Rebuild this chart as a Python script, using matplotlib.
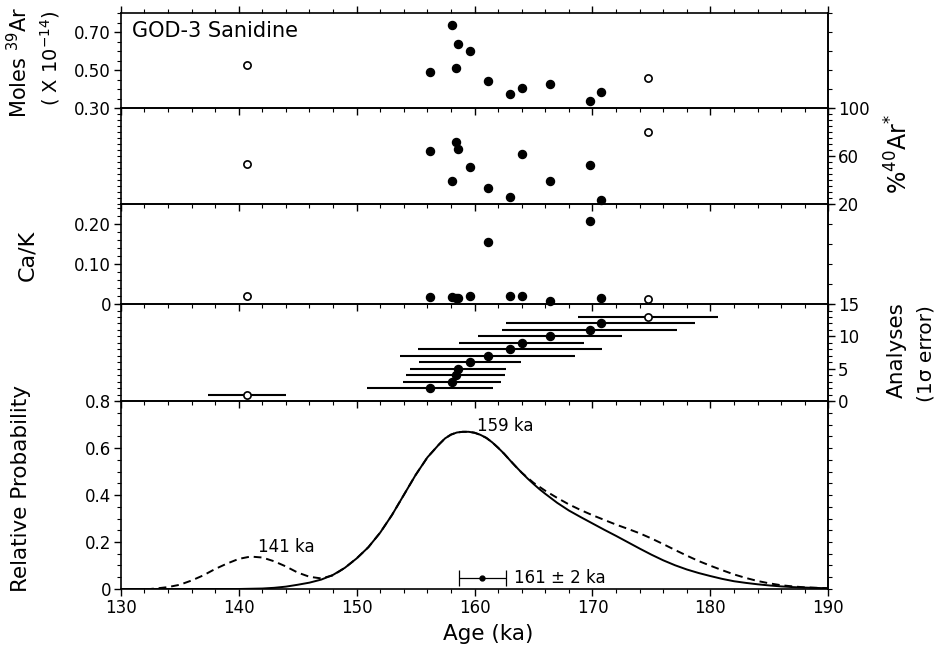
import numpy as np
import matplotlib
matplotlib.use('Agg')
import matplotlib.pyplot as plt
import matplotlib.gridspec as gridspec
from matplotlib.ticker import MultipleLocator, FixedLocator, NullLocator

plt.rcParams['font.family'] = ['DejaVu Sans']

# single-crystal analyses, sorted by age (ka)
ages = np.array([140.7, 156.2, 158.1, 158.4, 158.6, 159.6, 161.1, 163.0, 164.0, 166.4, 169.75, 170.7, 174.7])
errs = np.array([3.3, 5.35, 4.15, 4.2, 4.1, 4.35, 7.45, 7.8, 5.3, 6.1, 7.4, 8.0, 5.9])
moles39 = np.array([0.526, 0.488, 0.737, 0.509, 0.635, 0.600, 0.442, 0.372, 0.404, 0.428, 0.337, 0.383, 0.456])
rad40 = np.array([53.1, 64.2, 39.2, 71.9, 65.8, 51.1, 33.1, 25.8, 61.9, 39.2, 52.2, 23.3, 80.3])
cak = np.array([0.021, 0.018, 0.018, 0.016, 0.014, 0.019, 0.155, 0.019, 0.019, 0.008, 0.207, 0.014, 0.013])
used = np.array([False] + [True] * 11 + [False])

# probability curves
solid_age = [130, 136, 140, 142, 143, 144, 145, 146, 147, 148, 149, 150, 151, 152, 153, 154, 155,
             156, 157, 157.5, 158, 158.5, 159, 159.5, 160, 160.5, 161, 161.5, 162, 162.5, 163,
             163.5, 164, 164.5, 165, 165.5, 166, 167, 168, 169, 170, 171, 172, 173, 174, 175, 176,
             177, 178, 179, 180, 181, 182, 183, 184, 185, 186, 187, 188, 190]
solid_p = [0, 0, 0, 0.002, 0.005, 0.01, 0.018, 0.027, 0.04, 0.06, 0.09, 0.13, 0.178, 0.24, 0.315,
           0.40, 0.485, 0.56, 0.616, 0.641, 0.657, 0.666, 0.669, 0.669, 0.665, 0.656, 0.643, 0.624,
           0.601, 0.576, 0.548, 0.521, 0.495, 0.47, 0.447, 0.425, 0.405, 0.367, 0.334, 0.306, 0.279,
           0.252, 0.226, 0.199, 0.172, 0.146, 0.122, 0.101, 0.083, 0.068, 0.055, 0.043, 0.033,
           0.026, 0.02, 0.015, 0.011, 0.008, 0.006, 0.003]
dash_age = [130, 132.5, 133.3, 134, 135, 136, 137, 138, 139, 140, 141, 142, 143, 144, 145, 146, 147,
            148, 149, 150, 151, 152, 153, 154, 155, 156, 157, 157.5, 158, 158.5, 159, 159.5, 160,
            160.5, 161, 161.5, 162, 162.5, 163, 163.5, 164, 165, 166, 167, 168, 169, 170, 171, 172,
            173, 174, 175, 176, 177, 178, 179, 180, 181, 182, 183, 184, 185, 186, 187, 188, 190]
dash_p = [0, 0, 0.004, 0.008, 0.018, 0.036, 0.058, 0.085, 0.108, 0.128, 0.138, 0.134, 0.118, 0.096,
          0.07, 0.052, 0.045, 0.058, 0.09, 0.13, 0.178, 0.24, 0.315, 0.40, 0.485, 0.56, 0.616,
          0.641, 0.657, 0.666, 0.669, 0.669, 0.665, 0.656, 0.643, 0.624, 0.601, 0.576, 0.548,
          0.521, 0.495, 0.452, 0.418, 0.388, 0.36, 0.336, 0.314, 0.294, 0.274, 0.256, 0.237,
          0.215, 0.191, 0.166, 0.142, 0.119, 0.099, 0.08, 0.062, 0.047, 0.034, 0.024, 0.016,
          0.011, 0.007, 0.003]

mean_age = 160.65
mean_err = 2.0

xticks = [130, 140, 150, 160, 170, 180, 190]

fig = plt.figure(figsize=(9.36, 6.54), dpi=100)
gs = gridspec.GridSpec(5, 1, height_ratios=[95, 96, 100, 97, 188])
gs.update(left=0.129, right=0.885, top=0.980, bottom=0.0994, hspace=0)
axs = [fig.add_subplot(gs[i, 0]) for i in range(5)]


def style(ax, bottom_labels=False):
    ax.patch.set_visible(False)
    ax.set_xlim(130, 190)
    ax.xaxis.set_major_locator(FixedLocator(xticks))
    ax.xaxis.set_minor_locator(MultipleLocator(2))
    ax.tick_params(which='major', direction='out', length=5, width=1, labelsize=12, pad=2)
    ax.tick_params(which='minor', direction='out', length=3, width=0.8)
    ax.tick_params(axis='x', labelbottom=bottom_labels)
    ax.tick_params(axis='y', right=False)
    for s in ax.spines.values():
        s.set_linewidth(1.2)


def right_axis(ax, major=None, labels=None, minor=None):
    sec = ax.secondary_yaxis('right')
    if major is not None:
        sec.yaxis.set_major_locator(FixedLocator(major))
        sec.set_yticklabels(labels)
    else:
        sec.yaxis.set_major_locator(NullLocator())
    if minor is not None:
        sec.yaxis.set_minor_locator(MultipleLocator(minor))
    sec.tick_params(which='major', direction='out', length=5, width=1, labelsize=12, pad=2)
    sec.tick_params(which='minor', direction='out', length=3, width=0.8)
    sec.spines['right'].set_linewidth(1.2)
    return sec


def dots(ax, x, y):
    ax.plot(x[used], y[used], 'o', ms=5.8, mfc='k', mec='k', clip_on=False, zorder=3)
    ax.plot(x[~used], y[~used], 'o', ms=5.2, mfc='white', mec='k', mew=1.2, clip_on=False, zorder=3)


# panel 1: moles 39Ar
ax1 = axs[0]
style(ax1)
ax1.tick_params(axis='x', which='both', top=True)
ax1.set_ylim(0.30, 0.80)
ax1.yaxis.set_major_locator(FixedLocator([0.30, 0.50, 0.70]))
ax1.set_yticklabels(['0.30', '0.50', '0.70'])
ax1.yaxis.set_minor_locator(MultipleLocator(0.05))
right_axis(ax1, minor=0.1)
dots(ax1, ages, moles39)
ax1.text(0.0156, 0.744, 'GOD-3 Sanidine', transform=ax1.transAxes, fontsize=15, va='baseline')

# panel 2: %40Ar*
ax2 = axs[1]
style(ax2)
ax2.set_ylim(20, 100)
ax2.yaxis.set_major_locator(NullLocator())
ax2.yaxis.set_minor_locator(MultipleLocator(5))
right_axis(ax2, major=[20, 60, 100], labels=['20', '60', '100'], minor=5)
dots(ax2, ages, rad40)

# panel 3: Ca/K
ax3 = axs[2]
style(ax3)
ax3.set_ylim(0, 0.25)
ax3.yaxis.set_major_locator(FixedLocator([0, 0.10, 0.20]))
ax3.set_yticklabels(['0', '0.10', '0.20'])
ax3.yaxis.set_minor_locator(MultipleLocator(0.02))
right_axis(ax3, minor=0.05)
dots(ax3, ages, cak)

# panel 4: analyses with 1 sigma errors
ax4 = axs[3]
style(ax4)
ax4.set_ylim(0, 15)
ax4.yaxis.set_major_locator(NullLocator())
ax4.yaxis.set_minor_locator(MultipleLocator(1))
right_axis(ax4, major=[0, 5, 10, 15], labels=['0', '5', '10', '15'], minor=1)
rank = np.arange(1, len(ages) + 1)
ax4.errorbar(ages, rank, xerr=errs, fmt='none', ecolor='k', elinewidth=1.5, capsize=0)
dots(ax4, ages, rank)

# panel 5: relative probability
ax5 = axs[4]
style(ax5, bottom_labels=True)
ax5.set_ylim(0, 0.8)
ax5.yaxis.set_major_locator(FixedLocator([0, 0.2, 0.4, 0.6, 0.8]))
ax5.set_yticklabels(['0', '0.2', '0.4', '0.6', '0.8'])
ax5.yaxis.set_minor_locator(MultipleLocator(0.05))
ax5.set_xticklabels([str(t) for t in xticks])
right_axis(ax5, minor=0.05)
ax5.plot(solid_age, solid_p, color='k', lw=1.4, solid_joinstyle='round')
ax5.plot(dash_age, dash_p, color='k', lw=1.4, linestyle=(0, (4, 2.5)))
ax5.errorbar([mean_age], [0.0455], xerr=[mean_err], fmt='o', color='k', ms=3.5,
             elinewidth=0.9, capsize=6, capthick=0.9)
ax5.text(160.2, 0.672, '159 ka', fontsize=12, va='baseline')
ax5.text(141.6, 0.157, '141 ka', fontsize=12, va='baseline')
ax5.text(163.33, 0.027, '161 \u00b1 2 ka', fontsize=12, va='baseline')

# axis titles
rot = dict(rotation=90, rotation_mode='anchor')
fig.text(27 / 936, 1 - 7 / 654, r'Moles $^{39}$Ar', ha='right', va='baseline', fontsize=15, **rot)
fig.text(57 / 936, 1 - 10 / 654, r'( X 10$^{-14}$)', ha='right', va='baseline', fontsize=14, **rot)
fig.text(33 / 936, 1 - 255 / 654, 'Ca/K', ha='center', va='baseline', fontsize=16, **rot)
fig.text(27 / 936, 1 - 489 / 654, 'Relative Probability', ha='center', va='baseline', fontsize=15.5, **rot)
fig.text(908 / 936, 1 - 153.5 / 654, r'%$^{40}$Ar$^{*}$', ha='center', va='baseline', fontsize=17, **rot)
fig.text(903 / 936, 1 - 350 / 654, 'Analyses', ha='center', va='baseline', fontsize=15.5, **rot)
fig.text(931 / 936, 1 - 354 / 654, '(1\u03c3 error)', ha='center', va='baseline', fontsize=14.5, **rot)
fig.text(488 / 936, 1 - 640 / 654, 'Age (ka)', ha='center', va='baseline', fontsize=15.5)

plt.savefig('out.png', dpi=100)
